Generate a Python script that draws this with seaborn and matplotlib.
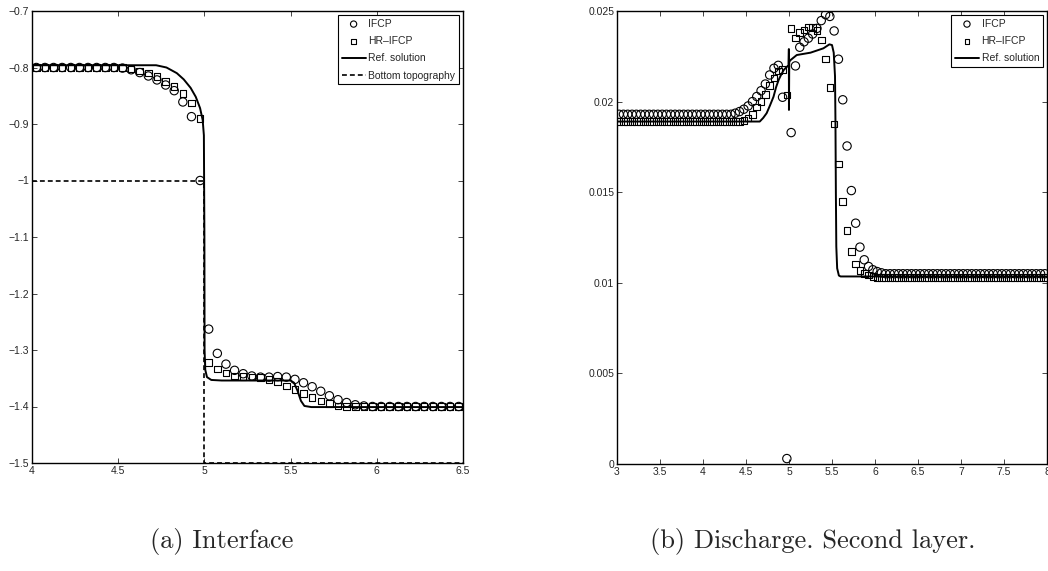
import numpy as np
import matplotlib
matplotlib.use('Agg')
import matplotlib.pyplot as plt
import seaborn as sns
from matplotlib.ticker import FuncFormatter

# ---- panel (a): interface ----
x_left = np.round(np.arange(4.025, 6.5, 0.05), 3)
ifcp_left = ([-0.8] * 10 +
             [-0.801, -0.804, -0.809, -0.815, -0.822, -0.831, -0.841, -0.861, -0.887, -1.0] +
             [-1.263, -1.306, -1.325, -1.336, -1.342, -1.346, -1.348, -1.348, -1.347, -1.348,
              -1.352, -1.358, -1.365, -1.373, -1.381, -1.388, -1.393, -1.397, -1.399] +
             [-1.4] * 11)
hr_left = ([-0.8] * 11 +
           [-0.803, -0.806, -0.810, -0.816, -0.825, -0.834, -0.846, -0.863, -0.890] +
           [-1.322, -1.334, -1.341, -1.346, -1.347, -1.348, -1.349, -1.352, -1.356, -1.364,
            -1.370, -1.377, -1.384, -1.390, -1.395, -1.399] +
           [-1.4] * 14)
ref_left_x = [4.0, 4.72, 4.78, 4.84, 4.88, 4.92, 4.95, 4.975, 4.99, 4.997, 5.0, 5.001,
              5.005, 5.015, 5.04, 5.1, 5.5, 5.52, 5.54, 5.56, 5.58, 5.62, 6.5]
ref_left_y = [-0.796, -0.796, -0.800, -0.810, -0.821, -0.836, -0.852, -0.872, -0.893, -0.92,
              -1.1, -1.3, -1.335, -1.348, -1.353, -1.354, -1.354, -1.358, -1.372, -1.390,
              -1.399, -1.401, -1.401]
topo_x = [4.0, 5.0, 5.0, 6.5]
topo_y = [-1.0, -1.0, -1.5, -1.5]

# ---- panel (b): discharge, second layer ----
x_right = np.round(np.arange(3.025, 8.0, 0.05), 3)
ifcp_right = ([0.0193] * 27 +
              [0.01936, 0.01945, 0.01958, 0.01976, 0.0200, 0.02028, 0.0206, 0.02097, 0.02147,
               0.02184, 0.0220, 0.02024, 0.0003, 0.01829, 0.02197, 0.0230, 0.0233, 0.0235,
               0.02373, 0.02404, 0.02447, 0.0248, 0.0247, 0.0239, 0.02234, 0.0201, 0.01755,
               0.01509, 0.01329, 0.01197, 0.01127, 0.0109, 0.01072, 0.01062, 0.01055] +
              [0.0105] * 38)
hr_right = ([0.0189] * 29 +
            [0.01895, 0.0191, 0.0193, 0.0197, 0.0200, 0.0204, 0.0209, 0.0213, 0.0217, 0.02178,
             0.02037, 0.02404, 0.0235, 0.0238, 0.02395, 0.02413, 0.0241, 0.02391, 0.0234,
             0.02235, 0.02079, 0.01877, 0.01656, 0.01448, 0.01288, 0.01173, 0.01105, 0.01068,
             0.0105, 0.01042, 0.01035] +
            [0.0103] * 40)
ref_right_x = [3.0, 4.66, 4.70, 4.74, 4.78, 4.82, 4.85, 4.88, 4.91, 4.94, 4.97, 4.995,
               4.9985, 4.9995, 5.003, 5.02, 5.09, 5.25, 5.40, 5.47, 5.50, 5.52, 5.535, 5.54,
               5.545, 5.55, 5.56, 5.58, 5.60, 8.0]
ref_right_y = [0.0189, 0.0189, 0.0191, 0.01936, 0.0198, 0.02027, 0.0208, 0.0212, 0.0215,
               0.02175, 0.0219, 0.0220, 0.0229, 0.01954, 0.0222, 0.0223, 0.02257, 0.0227,
               0.02294, 0.02316, 0.02312, 0.0227, 0.0214, 0.019, 0.015, 0.012, 0.0108,
               0.0104, 0.01035, 0.01035]

sns.set_style('ticks', {'xtick.direction': 'in', 'ytick.direction': 'in'})
plt.rcParams['font.family'] = ['Liberation Sans', 'DejaVu Sans']
plt.rcParams['lines.scale_dashes'] = False

fig, (ax1, ax2) = plt.subplots(1, 2, figsize=(10.48, 5.71), dpi=100)
ax1.set_position([32 / 1048, 1 - 463 / 571, 431 / 1048, 452 / 571])
ax2.set_position([617 / 1048, 1 - 464 / 571, 430 / 1048, 453 / 571])


def draw(ax, x, ifcp, hr, rx, ry):
    sns.scatterplot(x=x, y=ifcp, ax=ax, marker='o', s=36, facecolor='none',
                    edgecolor='black', linewidth=0.8, label='IFCP', zorder=3)
    sns.scatterplot(x=x, y=hr, ax=ax, marker='s', s=22, facecolor='none',
                    edgecolor='black', linewidth=0.8, label='HR\u2013IFCP', zorder=3)
    sns.lineplot(x=rx, y=ry, ax=ax, sort=False, estimator=None, color='black',
                 linewidth=1.4, label='Ref. solution', zorder=4)


def fmt(v, pos):
    return f'{v:g}'.replace('-', '\u2212')


draw(ax1, x_left, ifcp_left, hr_left, ref_left_x, ref_left_y)
sns.lineplot(x=topo_x, y=topo_y, ax=ax1, sort=False, estimator=None, color='black',
             linewidth=1.2, linestyle=(0, (3.5, 2.2)), label='Bottom topography', zorder=2)
draw(ax2, x_right, ifcp_right, hr_right, ref_right_x, ref_right_y)

ax1.set_xlim(4, 6.5)
ax1.set_ylim(-1.5, -0.7)
ax1.set_xticks([4, 4.5, 5, 5.5, 6, 6.5])
ax1.set_yticks(np.round(np.arange(-1.5, -0.65, 0.1), 1))
ax2.set_xlim(3, 8)
ax2.set_ylim(0, 0.025)
ax2.set_xticks(np.arange(3, 8.01, 0.5))
ax2.set_yticks([0, 0.005, 0.01, 0.015, 0.02, 0.025])

for ax in (ax1, ax2):
    ax.xaxis.set_major_formatter(FuncFormatter(fmt))
    ax.yaxis.set_major_formatter(FuncFormatter(fmt))
    ax.tick_params(top=True, right=True, direction='in', length=3.5, width=0.6,
                   labelsize=7.5, pad=2)
    for sp in ax.spines.values():
        sp.set_linewidth(1.0)
        sp.set_color('black')
    ax.set_xlabel('')
    ax.set_ylabel('')
    leg = ax.legend(loc='upper right', fontsize=7.5, handlelength=2.3, handletextpad=0.25,
                    labelspacing=0.7, borderpad=0.35, borderaxespad=0.4, markerscale=0.75,
                    fancybox=False, framealpha=1, edgecolor='black')
    leg.get_frame().set_linewidth(0.8)

fig.text(0.212, 0.052, '(a) Interface', ha='center', va='center',
         fontsize=19, family='cmr10')
fig.text(0.776, 0.052, '(b) Discharge. Second layer.', ha='center', va='center',
         fontsize=19, family='cmr10')

fig.savefig('out.png', dpi=100)
